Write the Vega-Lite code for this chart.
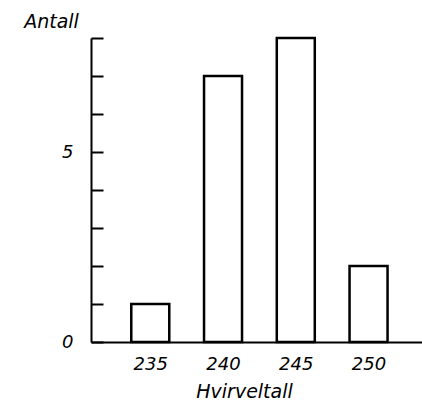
{
  "$schema": "https://vega.github.io/schema/vega-lite/v6.json",
  "width": 331,
  "height": 304,
  "autosize": {"type": "none"},
  "padding": {"left": 91, "top": 38, "right": 0, "bottom": 68},
  "background": "white",
  "config": {
    "view": {"stroke": null},
    "axis": {
      "labelFont": "DejaVu Sans",
      "labelFontStyle": "italic",
      "labelFontSize": 18,
      "labelColor": "black",
      "titleFont": "DejaVu Sans",
      "titleFontStyle": "italic",
      "titleFontWeight": "normal",
      "titleFontSize": 19,
      "titleColor": "black",
      "domainColor": "black",
      "domainWidth": 2,
      "tickColor": "black",
      "tickWidth": 2,
      "grid": false
    }
  },
  "data": {
    "values": [
      {"hvirveltall": 235, "antall": 1},
      {"hvirveltall": 240, "antall": 7},
      {"hvirveltall": 245, "antall": 8},
      {"hvirveltall": 250, "antall": 2}
    ]
  },
  "mark": {"type": "bar", "width": 38, "fill": "white", "stroke": "black", "strokeWidth": 2.5},
  "encoding": {
    "x": {
      "field": "hvirveltall",
      "type": "quantitative",
      "scale": {"domain": [231.27, 253.33], "nice": false, "zero": false},
      "axis": {
        "values": [235, 240, 245, 250],
        "ticks": false,
        "labelPadding": 13,
        "title": "Hvirveltall",
        "titleX": 153,
        "titleY": 55,
        "titleAnchor": null,
        "titleAlign": "center",
        "titleBaseline": "alphabetic"
      }
    },
    "y": {
      "field": "antall",
      "type": "quantitative",
      "scale": {"domain": [0, 8], "nice": false},
      "axis": {
        "values": [0, 1, 2, 3, 4, 5, 6, 7, 8],
        "labelExpr": "datum.value == 0 || datum.value == 5 ? datum.label : ''",
        "tickSize": -12,
        "labelPadding": 30,
        "title": "Antall",
        "titleAngle": 0,
        "titleX": -40,
        "titleY": -11,
        "titleAlign": "center",
        "titleBaseline": "alphabetic",
        "titleAnchor": null
      }
    }
  }
}
